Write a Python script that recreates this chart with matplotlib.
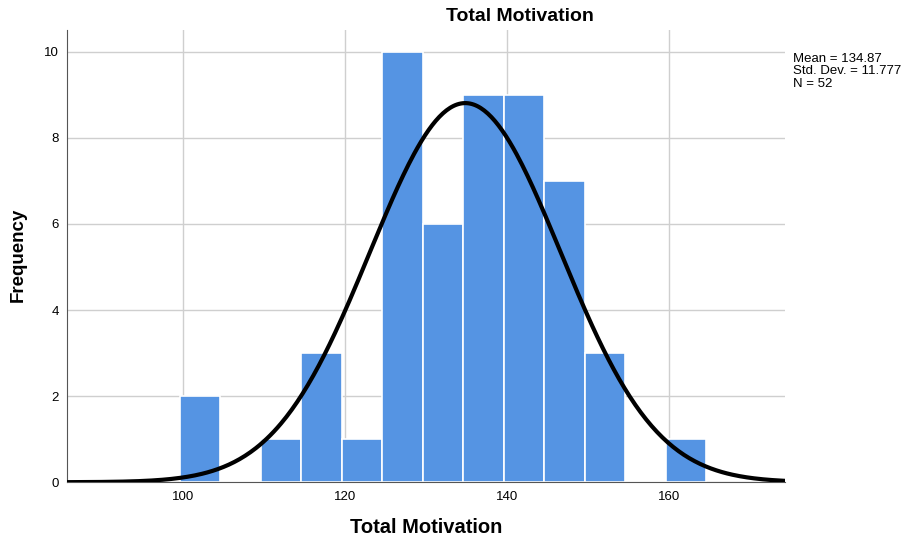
import numpy as np
import matplotlib.pyplot as plt

plt.rcParams['font.family'] = ['Liberation Sans', 'DejaVu Sans']

# histogram counts (bins of width 5)
bin_starts = [100, 105, 110, 115, 120, 125, 130, 135, 140, 145, 150, 155, 160]
counts = [2, 0, 1, 3, 1, 10, 6, 9, 9, 7, 3, 0, 1]
bin_width = 5
bin_offset = -0.35

mean = 134.87
std_dev = 11.777
n = 52

bar_color = '#5594e3'

fig = plt.figure(figsize=(9.05, 5.4), dpi=100)
ax = fig.add_axes([0.074, 0.107, 0.793, 0.837])

lefts = [b + bin_offset for b in bin_starts]
ax.bar(lefts, counts, width=bin_width, align='edge', color=bar_color,
       edgecolor='white', linewidth=1.2, zorder=2)

# normal curve scaled to the histogram
x = np.linspace(85.7, 174.3, 400)
y = n * bin_width / (std_dev * np.sqrt(2 * np.pi)) * np.exp(-0.5 * ((x - mean) / std_dev) ** 2)
ax.plot(x, y, color='black', linewidth=3, zorder=3)

ax.set_xlim(85.7, 174.3)
ax.set_ylim(0, 10.5)
ax.set_xticks([100, 120, 140, 160])
ax.set_yticks([0, 2, 4, 6, 8, 10])
ax.tick_params(length=0, labelsize=9.5, pad=6)
ax.grid(True, color='#cfcfcf', linewidth=1, zorder=0)
ax.set_axisbelow(True)

for side in ['top', 'right']:
    ax.spines[side].set_visible(False)
ax.spines['left'].set_color('#555555')
ax.spines['bottom'].set_color('#555555')

fig.text(0.575, 0.97, 'Total Motivation', ha='center', va='center',
         fontsize=14, fontweight='bold')
fig.text(0.471, 0.024, 'Total Motivation', ha='center', va='center',
         fontsize=14.5, fontweight='bold')
fig.text(0.02, 0.528, 'Frequency', ha='center', va='center', rotation=90,
         fontsize=13.5, fontweight='bold')
fig.text(0.876, 0.868, 'Mean = %.2f\nStd. Dev. = %.3f\nN = %d' % (mean, std_dev, n),
         ha='left', va='center', fontsize=9.5, linespacing=1.06)

fig.savefig('out.png', dpi=100)
